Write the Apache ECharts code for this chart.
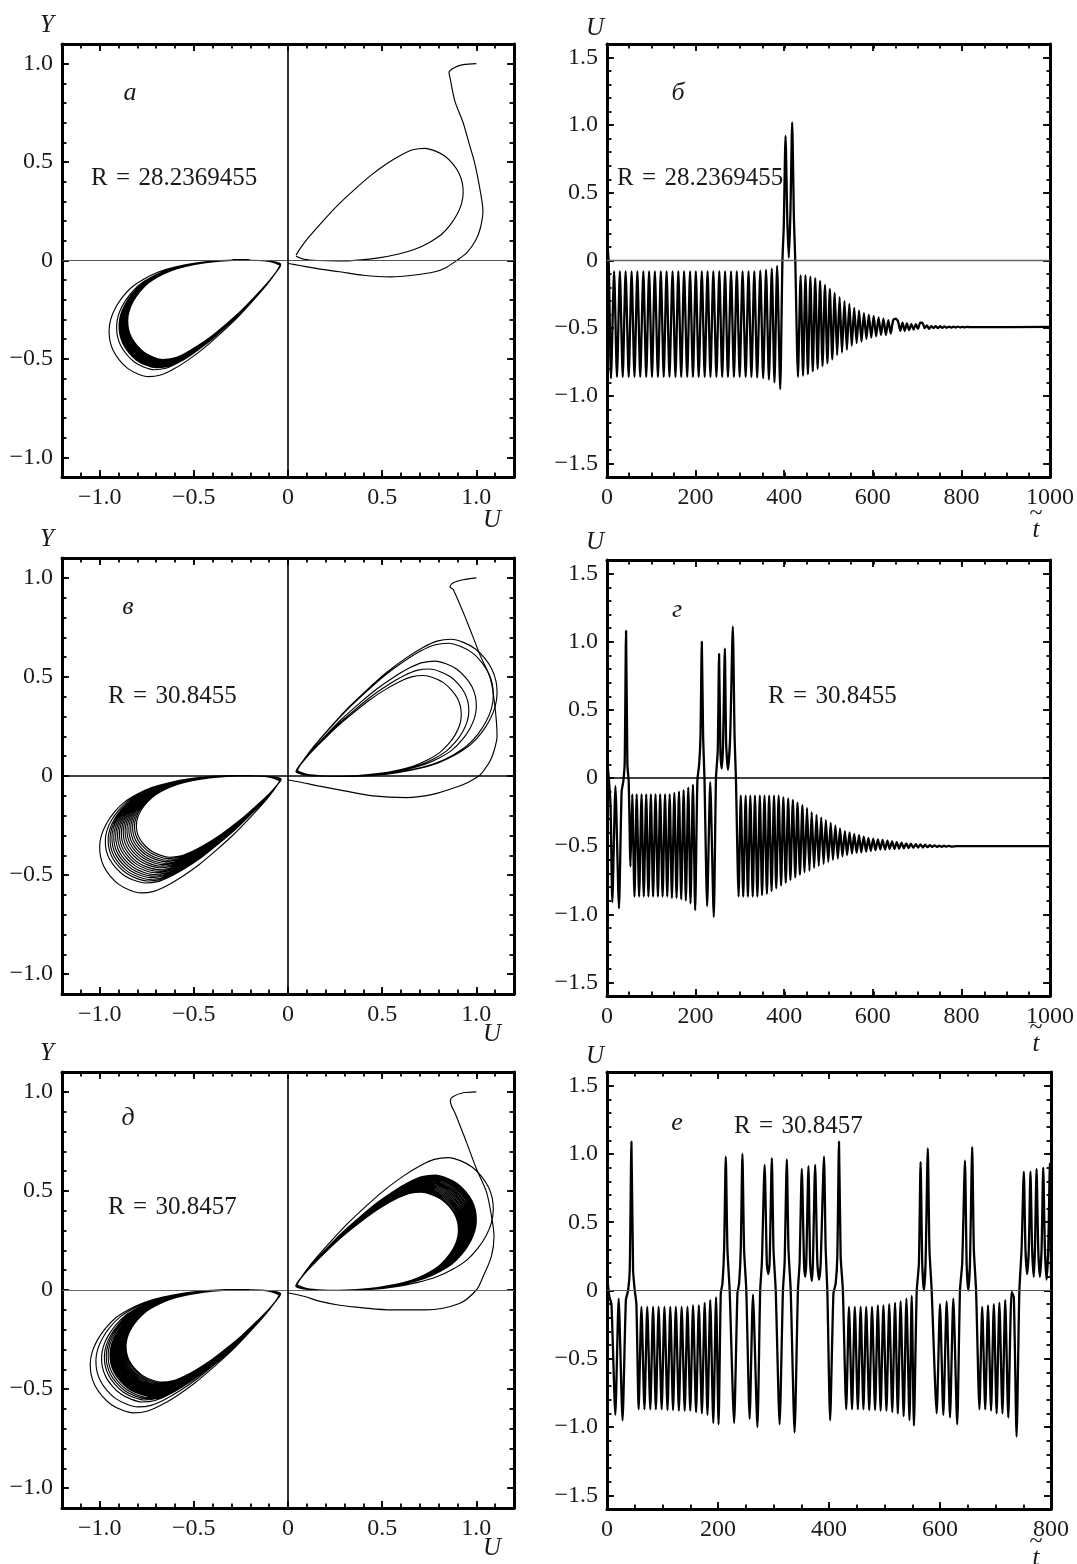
<!DOCTYPE html>
<html><head><meta charset="utf-8">
<script src="https://cdn.jsdelivr.net/npm/echarts@6/dist/echarts.min.js"></script>
<style>html,body{margin:0;padding:0;background:#fff}#c{width:1077px;height:1564px}</style>
</head><body><div id="c"></div>
<script>
// ---------- tick values ----------
const phaseMajorTicks = [-1.0, -0.5, 0, 0.5, 1.0];
const phaseXMinorTicks = [-1.1,-1.0,-0.9,-0.8,-0.7,-0.6,-0.5,-0.4,-0.3,-0.2,-0.1,0,0.1,0.2,0.3,0.4,0.5,0.6,0.7,0.8,0.9,1.0,1.1];
const phaseYMinorTicks = [-1.0,-0.9,-0.8,-0.7,-0.6,-0.5,-0.4,-0.3,-0.2,-0.1,0,0.1,0.2,0.3,0.4,0.5,0.6,0.7,0.8,0.9,1.0];
const timeUMajorTicks = [-1.5, -1.0, -0.5, 0, 0.5, 1.0, 1.5];
const timeUMinorTicks = [-1.5,-1.4,-1.3,-1.2,-1.1,-1.0,-0.9,-0.8,-0.7,-0.6,-0.5,-0.4,-0.3,-0.2,-0.1,0,0.1,0.2,0.3,0.4,0.5,0.6,0.7,0.8,0.9,1.0,1.1,1.2,1.3,1.4,1.5];
const t1000MajorTicks = [0, 200, 400, 600, 800, 1000];
const t1000MinorTicks = [50,100,150,200,250,300,350,400,450,500,550,600,650,700,750,800,850,900,950];
const t800MajorTicks = [0, 200, 400, 600, 800];
const t800MinorTicks = [50,100,150,200,250,300,350,400,450,500,550,600,650,700,750];

const lobeShapeU = [-0.04,-0.08,-0.15,-0.25,-0.35,-0.45,-0.55,-0.63,-0.70,-0.76,-0.805,-0.84,-0.862,-0.87,-0.866,-0.85,-0.82,-0.78,-0.73,-0.68,-0.62,-0.56,-0.49,-0.41,-0.33,-0.25,-0.17,-0.10,-0.06,-0.04];
const lobeShapeY = [-0.02,-0.006,0.0,0.002,-0.002,-0.012,-0.03,-0.052,-0.083,-0.12,-0.165,-0.215,-0.265,-0.315,-0.36,-0.405,-0.448,-0.485,-0.51,-0.522,-0.515,-0.49,-0.45,-0.395,-0.33,-0.26,-0.18,-0.105,-0.055,-0.025];

// ---------- panel а (phase plane, R = 28.2369455) ----------
const aTransU = [1.0,0.93,0.88,0.855,0.86,0.886,0.93,0.96,0.99,1.01,1.03,1.035,1.02,0.995,0.95,0.896,0.84,0.78,0.66,0.544,0.40,0.274,0.17,0.094,0.03,0.0];
const aTransY = [1.0,0.995,0.978,0.955,0.93,0.81,0.70,0.60,0.50,0.41,0.30,0.25,0.16,0.10,0.04,0.0,-0.035,-0.057,-0.075,-0.083,-0.075,-0.057,-0.044,-0.031,-0.02,-0.015];
const aLeftMinU = [-0.95,-0.91,-0.897,-0.892,-0.887,-0.883,-0.879,-0.875,-0.872,-0.869,-0.866,-0.863,-0.86,-0.857,-0.854,-0.851];
const aLeftMinY = [-0.59,-0.555,-0.545,-0.541,-0.537,-0.533,-0.53,-0.527,-0.524,-0.521,-0.518,-0.515,-0.512,-0.509,-0.506,-0.503];
const aRightMaxU = [0.93];
const aRightMaxY = [0.57];

// ---------- panel в (phase plane, R = 30.8455) ----------
const vTransU = [1.0,0.93,0.878,0.86,0.878,0.95,1.02,1.075,1.1,1.11,1.095,1.075,1.045,1.02,0.96,0.9,0.78,0.63,0.45,0.30,0.16,0.06,0.0];
const vTransY = [1.0,0.99,0.975,0.955,0.94,0.78,0.61,0.49,0.34,0.20,0.13,0.08,0.035,0.005,-0.03,-0.054,-0.09,-0.109,-0.10,-0.075,-0.05,-0.03,-0.02];
const vLeftMinU = [-1.0,-0.97,-0.955,-0.945,-0.935,-0.925,-0.915,-0.905,-0.895,-0.885,-0.875,-0.865,-0.855,-0.845,-0.835,-0.825,-0.815,-0.805];
const vLeftMinY = [-0.59,-0.54,-0.53,-0.522,-0.513,-0.505,-0.497,-0.488,-0.48,-0.472,-0.463,-0.455,-0.447,-0.44,-0.432,-0.425,-0.417,-0.41];
const vRightMaxU = [0.92,0.96,1.0,1.09,1.11];
const vRightMaxY = [0.507,0.54,0.58,0.67,0.69];

// ---------- panel д (phase plane, R = 30.8457) ----------
const dTransU = [1.0,0.93,0.875,0.862,0.868,0.89,0.946,1.0,1.054,1.08,1.094,1.08,1.036,1.0,0.91,0.73,0.547,0.40,0.275,0.16,0.094,0.03,0.0];
const dTransY = [1.0,0.995,0.975,0.955,0.93,0.886,0.75,0.613,0.494,0.375,0.27,0.17,0.068,0.0,-0.068,-0.10,-0.10,-0.09,-0.077,-0.055,-0.034,-0.02,-0.015];
const dLeftMinU = [-1.05,-1.02,-0.99,-0.975,-0.965,-0.955,-0.945,-0.94,-0.935,-0.93,-0.925,-0.92,-0.915,-0.91,-0.905,-0.9,-0.895,-0.89,-0.885,-0.88,-0.875,-0.87,-0.865,-0.86];
const dLeftMinY = [-0.62,-0.59,-0.565,-0.555,-0.548,-0.542,-0.536,-0.532,-0.528,-0.524,-0.52,-0.516,-0.512,-0.508,-0.504,-0.5,-0.496,-0.492,-0.488,-0.484,-0.48,-0.475,-0.47,-0.465];
const dRightMaxU = [1.09,1.0,0.995,0.99,0.985,0.98,0.975,0.97,0.965,0.96,0.955,0.95,0.945,0.94,0.935,0.93,0.925,0.92,0.915,0.91,0.905];
const dRightMaxY = [0.668,0.58,0.577,0.574,0.571,0.567,0.563,0.558,0.553,0.548,0.543,0.538,0.533,0.528,0.523,0.518,0.513,0.508,0.503,0.498,0.494];

// ---------- panel б (U(t), R = 28.2369455): successive turning points ----------
const bT = [0,4,9,16,22.5,29,35.5,42,49,55.5,62,68.5,75,82,88.5,95,101.5,108,115,121.5,128,134.5,141,148,154.5,161,167.5,174,181,187.5,194,200.5,207,214,220.5,227,233.5,240,247,253.5,260,266.5,273,280,286.5,293,299.5,306,313,319.5,326,332.5,339,346,352.5,359,365.5,372,378,384,391,396,399,403,407,410.5,414,418,422,425,431,
 437,442.5,448,453.5,459,464.5,470,475.5,481,486.5,492,497.5,503,508.5,514,519.5,525,530.5,536,541.5,547,552.5,558,563.5,569,574.5,580,585.5,591,596.5,602,607.5,613,618.5,624,629.5,635,640.5,646,652,657,662,667,672,677,682,687,692,697,702,707,712,717,722,727,732,737,742,747,752,757,762,767,772,777,782,787,792,797,802,807,812,820,1000];
const bU = [0.17,-0.03,-0.87,-0.08,-0.86,-0.08,-0.86,-0.08,-0.86,-0.08,-0.86,-0.08,-0.86,-0.08,-0.86,-0.08,-0.86,-0.08,-0.86,-0.08,-0.86,-0.08,-0.86,-0.08,-0.86,-0.08,-0.86,-0.08,-0.86,-0.08,-0.86,-0.08,-0.86,-0.08,-0.86,-0.08,-0.86,-0.08,-0.86,-0.08,-0.86,-0.08,-0.86,-0.08,-0.86,-0.08,-0.86,-0.08,-0.86,-0.08,-0.86,-0.08,-0.865,-0.075,-0.87,-0.07,-0.88,-0.06,-0.9,-0.04,-0.95,0.0,0.25,0.92,0.3,0.02,0.35,1.02,0.3,0.0,-0.86,
 -0.11,-0.85,-0.11,-0.84,-0.12,-0.82,-0.13,-0.8,-0.15,-0.78,-0.18,-0.76,-0.21,-0.73,-0.24,-0.7,-0.27,-0.68,-0.3,-0.66,-0.32,-0.63,-0.35,-0.61,-0.37,-0.6,-0.39,-0.58,-0.4,-0.57,-0.41,-0.56,-0.42,-0.55,-0.43,-0.55,-0.44,-0.54,-0.44,-0.43,-0.45,-0.52,-0.46,-0.52,-0.465,-0.515,-0.47,-0.51,-0.47,-0.505,-0.46,-0.46,-0.5,-0.48,-0.505,-0.485,-0.5,-0.485,-0.5,-0.485,-0.498,-0.487,-0.497,-0.488,-0.496,-0.489,-0.495,-0.489,-0.494,-0.49,-0.494,-0.49,-0.493,-0.49];

// ---------- panel г (U(t), R = 30.8455) ----------
const gT = [0,4,8,12,19,27,33,37,40,43,46,49,53,57,62,67,72.5,78,83,88.5,93.5,99,104,109.5,115,120,125.5,131,136,141.5,146.5,152,157,162.5,167.5,173,178,183.5,188.5,194,199,204,208,211,214,217,220,226,233,241,246,250,253,256,259,262,266,269,273,278,284,288,291,297,
 302,307.5,313,318,323.5,329,334,339.5,345,350,355.5,361,366,371.5,377,382,387.5,393,398,403.5,409,414,419.5,425,430,435.5,441,446,451.5,457,462,467.5,473,478,483.5,489,494,499.5,505,510,515.5,521,526,531.5,537,542,547.5,553,558,563.5,569,574,579.5,585,590,595.5,601,606,611.5,617,622,627.5,633,638,643.5,649,654,659.5,665,670,675.5,681,686,691.5,697,702,707.5,713,718,723.5,729,734,739.5,745,750,755.5,761,766,771.5,777,790,1000];
const gU = [0.14,0.0,-0.2,-0.91,-0.06,-0.955,-0.1,-0.02,0.12,1.08,0.1,-0.03,-0.65,-0.12,-0.87,-0.12,-0.87,-0.12,-0.87,-0.12,-0.87,-0.12,-0.87,-0.12,-0.87,-0.12,-0.87,-0.12,-0.87,-0.12,-0.88,-0.11,-0.88,-0.1,-0.89,-0.09,-0.9,-0.07,-0.92,-0.05,-0.97,-0.02,0.1,0.3,1.0,0.3,0.0,-0.94,-0.03,-1.02,0.0,0.2,0.91,0.2,0.07,0.25,0.95,0.25,0.06,0.3,1.11,0.3,0.0,-0.87,
 -0.13,-0.87,-0.13,-0.87,-0.13,-0.87,-0.13,-0.87,-0.13,-0.86,-0.13,-0.85,-0.13,-0.83,-0.13,-0.81,-0.13,-0.79,-0.14,-0.77,-0.15,-0.75,-0.16,-0.73,-0.18,-0.71,-0.2,-0.69,-0.22,-0.68,-0.25,-0.66,-0.27,-0.645,-0.29,-0.63,-0.31,-0.615,-0.33,-0.6,-0.35,-0.59,-0.37,-0.575,-0.39,-0.565,-0.4,-0.555,-0.41,-0.55,-0.42,-0.545,-0.43,-0.54,-0.44,-0.535,-0.445,-0.53,-0.45,-0.525,-0.455,-0.525,-0.46,-0.52,-0.465,-0.52,-0.47,-0.518,-0.475,-0.516,-0.48,-0.514,-0.482,-0.512,-0.485,-0.511,-0.488,-0.51,-0.49,-0.508,-0.492,-0.507,-0.494,-0.506,-0.496,-0.505,-0.497,-0.504,-0.498,-0.503,-0.5,-0.5];

// ---------- panel е (U(t), R = 30.8457) ----------
const eT = [0,4,8,15,21,28,34,38,41,44,47,50,53,57,62,67.5,72.5,78,83,88,93,98.5,103.5,109,114,119,124,129.5,134.5,140,145,150,155,160.5,165.5,171,176,181,186,191.5,196.5,201,205,208,211,214,217,221,229,235,238,241,244,247,251,257,263,271,276,279,284,288,290.5,293,297,300,304,311,317,320,324,327,331,338,344,347,351,355,357,359,363,366,369,371,375,379,382,385,391,394,397,402,408,412,415,418,421,425,431,
 436,441.5,446.5,452,457,462,467,472.5,477.5,483,488,493,498,503.5,508.5,514,519,524,529,534.5,539.5,545,549,553,558,562,565,568,571,574,578,581,585,594,600,606,612,618,624,631,636,640,645,648,651,654,658,661,665,671,676,681.5,686.5,692,697,702,707,712.5,717.5,723,729,733,738,743,747,751,754,757,760,763,766,769,771,774,777,780,783,786,789,792,795,798,800];
const eU = [0.12,-0.04,-0.1,-0.91,-0.06,-0.95,-0.07,0.0,0.15,1.09,0.15,0.0,-0.1,-0.87,-0.12,-0.87,-0.12,-0.87,-0.12,-0.87,-0.12,-0.87,-0.12,-0.875,-0.12,-0.875,-0.12,-0.88,-0.12,-0.88,-0.12,-0.88,-0.11,-0.89,-0.11,-0.9,-0.09,-0.91,-0.07,-0.97,-0.05,-0.98,-0.02,0.05,0.3,0.98,0.3,0.0,-0.97,-0.02,0.05,0.3,1.0,0.3,0.0,-0.94,-0.03,-1.0,0.0,0.2,0.92,0.2,0.12,0.2,0.97,0.3,0.0,-0.98,0.0,0.2,0.96,0.3,0.0,-1.04,0.0,0.2,0.89,0.2,0.1,0.2,0.91,0.2,0.07,0.2,0.92,0.2,0.08,0.2,0.98,0.3,0.0,-0.95,-0.02,0.05,0.25,1.09,0.25,0.0,-0.87,
 -0.12,-0.87,-0.12,-0.87,-0.12,-0.87,-0.12,-0.875,-0.12,-0.875,-0.11,-0.88,-0.11,-0.88,-0.1,-0.89,-0.09,-0.9,-0.08,-0.92,-0.06,-0.95,-0.04,-0.99,-0.01,0.2,0.94,0.2,0.0,0.2,1.04,0.3,0.0,-0.9,-0.1,-0.91,-0.08,-0.93,-0.06,-0.98,0.0,0.2,0.95,0.2,0.0,0.2,1.05,0.3,0.0,-0.87,-0.12,-0.87,-0.11,-0.88,-0.1,-0.9,-0.09,-0.9,-0.07,-0.93,-0.01,-0.05,-1.07,0.0,0.3,0.87,0.3,0.12,0.3,0.87,0.3,0.1,0.3,0.89,0.3,0.1,0.3,0.9,0.3,0.08,0.3,0.93,0.1];

// ---------- build ----------
const FONT = '"Liberation Serif", "Times New Roman", serif';
const pairs = (xs, ys) => xs.map((x, i) => [x, ys[i]]);
function lobeLoops(extU, extY) {
  const mU = Math.min(...lobeShapeU), mY = Math.min(...lobeShapeY);
  const pts = [];
  extU.forEach((eu, k) => {
    for (let i = 0; i < lobeShapeU.length; i++) pts.push([eu * lobeShapeU[i] / mU, extY[k] * lobeShapeY[i] / mY]);
  });
  return pts;
}
const fmt1 = v => (Math.abs(v) < 1e-9 ? '0' : (v < 0 ? '\u2212' : '') + Math.abs(v).toFixed(1));
const fmtInt = v => String(Math.round(v));

const LEFT = {left: 62, width: 452};
const RIGHT = {left: 607, width: 444};
const panels = [
  {rect: LEFT, top: 44, h: 433, kind: 'phase'},
  {rect: RIGHT, top: 44, h: 433, kind: 'time', tmax: 1000},
  {rect: LEFT, top: 558, h: 436, kind: 'phase'},
  {rect: RIGHT, top: 560, h: 436, kind: 'time', tmax: 1000},
  {rect: LEFT, top: 1072, h: 436, kind: 'phase'},
  {rect: RIGHT, top: 1072, h: 437, kind: 'time', tmax: 800}
];

const grid = [], xAxis = [], yAxis = [], series = [];
panels.forEach((p, i) => {
  const g = {left: p.rect.left, width: p.rect.width, top: p.top, height: p.h, containLabel: false};
  grid.push(Object.assign({}, g), Object.assign({}, g));
  const phase = p.kind === 'phase';
  const xr = phase ? [-1.2, 1.2] : [0, p.tmax];
  const yr = phase ? [-1.1, 1.1] : [-1.6, 1.6];
  const xMaj = phase ? phaseMajorTicks : (p.tmax === 800 ? t800MajorTicks : t1000MajorTicks);
  const xMin = phase ? phaseXMinorTicks : (p.tmax === 800 ? t800MinorTicks : t1000MinorTicks);
  const yMaj = phase ? phaseMajorTicks : timeUMajorTicks;
  const yMin = phase ? phaseYMinorTicks : timeUMinorTicks;
  const xf = phase ? fmt1 : fmtInt;
  const mk = (gi, pos, range, ticks, len, showLine, labels, fmt) => ({
    type: 'value', gridIndex: gi, position: pos, min: range[0], max: range[1],
    axisLine: {show: showLine, onZero: false, lineStyle: {color: '#000', width: 3}},
    axisTick: {show: true, inside: true, length: len, customValues: ticks, lineStyle: {color: '#000', width: 1.8}},
    axisLabel: {show: !!labels, customValues: ticks, formatter: fmt, fontFamily: FONT, fontSize: 24, color: '#1a1a1a', margin: 9},
    splitLine: {show: false}
  });
  xAxis.push(mk(2*i, 'bottom', xr, xMaj, 7, true, true, xf));
  xAxis.push(mk(2*i, 'top', xr, xMaj, 7, true, false, xf));
  xAxis.push(mk(2*i+1, 'bottom', xr, xMin, 4.5, false, false, xf));
  xAxis.push(mk(2*i+1, 'top', xr, xMin, 4.5, false, false, xf));
  yAxis.push(mk(2*i, 'left', yr, yMaj, 7, true, true, fmt1));
  yAxis.push(mk(2*i, 'right', yr, yMaj, 7, true, false, fmt1));
  yAxis.push(mk(2*i+1, 'left', yr, yMin, 4.5, false, false, fmt1));
  yAxis.push(mk(2*i+1, 'right', yr, yMin, 4.5, false, false, fmt1));
});

const axisIdx = i => ({xAxisIndex: 4*i, yAxisIndex: 4*i});
const zeroLines = (hColor, hWidth, vColor, vWidth) => {
  const d = [{yAxis: 0, lineStyle: {color: hColor, width: hWidth, type: 'solid'}}];
  if (vColor) d.push({xAxis: 0, lineStyle: {color: vColor, width: vWidth, type: 'solid'}});
  return {silent: true, symbol: 'none', animation: false, label: {show: false}, lineStyle: {type: 'solid'}, data: d};
};
const phaseLine = (data, idx, extra) => Object.assign({
  type: 'line', data: data, showSymbol: false, smooth: 0.3, animation: false, silent: true,
  lineStyle: {color: '#000', width: 1.15}
}, axisIdx(idx), extra || {});
const timeLine = (data, idx, extra) => Object.assign({
  type: 'line', data: data, showSymbol: false, smooth: 0.2, animation: false, silent: true,
  lineStyle: {color: '#000', width: 2.3}
}, axisIdx(idx), extra || {});

// а
series.push(phaseLine(pairs(aTransU, aTransY), 0, {markLine: zeroLines('#555', 1.2, '#000', 1.6)}));
series.push(phaseLine(lobeLoops(aRightMaxU, aRightMaxY), 0));
series.push(phaseLine(lobeLoops(aLeftMinU, aLeftMinY), 0));
// б
series.push(timeLine(pairs(bT, bU), 1, {markLine: zeroLines('#666', 1.4)}));
// в
series.push(phaseLine(pairs(vTransU, vTransY), 2, {markLine: zeroLines('#000', 1.6, '#000', 1.6)}));
series.push(phaseLine(lobeLoops(vRightMaxU, vRightMaxY), 2));
series.push(phaseLine(lobeLoops(vLeftMinU, vLeftMinY), 2));
// г
series.push(timeLine(pairs(gT, gU), 3, {markLine: zeroLines('#000', 1.6)}));
// д
series.push(phaseLine(pairs(dTransU, dTransY), 4, {markLine: zeroLines('#666', 1.2, '#000', 1.6)}));
series.push(phaseLine(lobeLoops(dRightMaxU, dRightMaxY), 4));
series.push(phaseLine(lobeLoops(dLeftMinU, dLeftMinY), 4));
// е
series.push(timeLine(pairs(eT, eU), 5, {markLine: zeroLines('#555', 1.1)}));

// ---------- text ----------
const txt = (s, x, y, opt) => ({
  type: 'text', x: x, y: y, silent: true,
  style: Object.assign({text: s, font: '25px ' + FONT, fill: '#1a1a1a', align: 'center', verticalAlign: 'middle', textAlign: 'center', textVerticalAlign: 'middle'}, opt || {})
});
const IT = {font: 'italic 25px ' + FONT};
const ITs = {font: 'italic 26px ' + FONT};
const LA = {align: 'left', textAlign: 'left'};
const graphic = [];
const rowsY = [0, 514, 1028];
const rTexts = [['R\u2004=\u200428.2369455', 91, 178, 'R\u2004=\u200428.2369455', 617, 178],
                ['R\u2004=\u200430.8455', 108, 696, 'R\u2004=\u200430.8455', 768, 696],
                ['R\u2004=\u200430.8457', 108, 1207, 'R\u2004=\u200430.8457', 734, 1126]];
const letters = [['а', 130, 93, 'б', 678, 93], ['в', 128, 607, 'г', 677, 610], ['д', 128, 1118, 'е', 677, 1123]];
rowsY.forEach((dy, r) => {
  graphic.push(txt('Y', 47, 25 + dy, IT));
  graphic.push(txt('U', 492, 520 + dy, IT));
  graphic.push(txt('U', 595, 28 + dy, IT));
  graphic.push(txt('~', 1036, 514 + dy, {font: '24px ' + FONT}));
  graphic.push(txt('t', 1036, 530 + dy, IT));
  graphic.push(txt(letters[r][0], letters[r][1], letters[r][2], ITs));
  graphic.push(txt(letters[r][3], letters[r][4], letters[r][5], ITs));
  graphic.push(txt(rTexts[r][0], rTexts[r][1], rTexts[r][2], LA));
  graphic.push(txt(rTexts[r][3], rTexts[r][4], rTexts[r][5], LA));
});

const chart = echarts.init(document.getElementById('c'), null, {renderer: 'canvas'});
chart.setOption({animation: false, backgroundColor: '#fff', grid, xAxis, yAxis, series, graphic});
</script></body></html>
